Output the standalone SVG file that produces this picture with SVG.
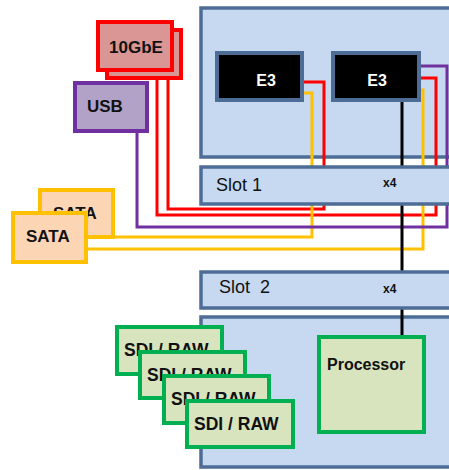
<svg xmlns="http://www.w3.org/2000/svg" width="449" height="470" viewBox="0 0 449 470">
<style>
.board{fill:#c6d9f1;stroke:#4d6d96;stroke-width:3.5}
.e3{fill:#000;stroke:#4d6d96;stroke-width:4}
.t{font-family:"Liberation Sans",Arial,sans-serif;font-weight:bold;fill:#111}
.w{fill:#fff}
.reg{font-weight:normal}
.gbe{fill:#d99694;stroke:#ff0000;stroke-width:4}
.usb{fill:#b3a2c7;stroke:#7030a0;stroke-width:4}
.sata{fill:#fcd5b5;stroke:#ffc000;stroke-width:4}
.grn{fill:#d7e4bd;stroke:#00b050;stroke-width:4}
.c{fill:none;stroke-width:3}
</style>
<rect width="449" height="470" fill="#fff"/>
<g id="board-top"><rect class="board" x="201" y="8" width="260" height="149"/></g>
<g id="board-bottom"><rect class="board" x="201" y="317" width="260" height="150"/></g>
<g id="connectors">
<path class="c" stroke="#ff0000" d="M302,82 H324 V209 H168 V78"/>
<path class="c" stroke="#ff0000" d="M419,78 H436 V215 H157 V78"/>
<path class="c" stroke="#ffc000" d="M302,93 H312 V237 H86"/>
<path class="c" stroke="#ffc000" d="M419,90 H423 V249 H86"/>
<path class="c" stroke="#7030a0" d="M419,66 H447 V227 H137 V131"/>
<path class="c" stroke="#000" d="M402,100 V337"/>
</g>
<g id="slot1"><rect class="board" x="201" y="167" width="260" height="37"/>
<text class="t reg" x="216" y="191" font-size="18">Slot 1</text>
<text class="t" x="383" y="187" font-size="12">x4</text></g>
<g id="slot2"><rect class="board" x="201" y="272" width="260" height="36"/>
<text class="t reg" x="219" y="293" font-size="18" xml:space="preserve">Slot  2</text>
<text class="t" x="383" y="293" font-size="12">x4</text></g>
<g id="e3-left"><rect class="e3" x="217" y="53" width="85" height="47"/>
<text class="t w" x="266" y="86" font-size="16" text-anchor="middle">E3</text></g>
<g id="e3-right"><rect class="e3" x="333" y="53" width="86" height="47"/>
<text class="t w" x="377" y="86" font-size="16" text-anchor="middle">E3</text></g>
<g id="gbe"><rect class="gbe" x="107" y="30" width="74" height="48"/>
<rect class="gbe" x="98" y="22" width="74" height="48"/>
<text class="t" x="109" y="53" font-size="17">10GbE</text></g>
<g id="usb"><rect class="usb" x="75" y="83" width="72" height="48"/>
<text class="t" x="87" y="112" font-size="17">USB</text></g>
<g id="sata"><rect class="sata" x="40" y="190" width="73" height="47"/>
<text class="t" x="53" y="219" font-size="17">SATA</text>
<rect class="sata" x="13" y="213" width="73" height="49"/>
<text class="t" x="26" y="242" font-size="17">SATA</text></g>
<g id="processor"><rect class="grn" x="319" y="337" width="105" height="95"/>
<text class="t" x="327" y="370" font-size="16">Processor</text></g>
<g id="sdi1"><rect class="grn" x="117" y="327" width="105" height="47"/>
<text class="t" x="124" y="356" font-size="17.5">SDI / RAW</text></g>
<g id="sdi2"><rect class="grn" x="140" y="352" width="105" height="46"/>
<text class="t" x="147" y="381" font-size="17.5">SDI / RAW</text></g>
<g id="sdi3"><rect class="grn" x="164" y="376" width="105" height="47"/>
<text class="t" x="171" y="405" font-size="17.5">SDI / RAW</text></g>
<g id="sdi4"><rect class="grn" x="187" y="401" width="106" height="46"/>
<text class="t" x="194" y="430" font-size="17.5">SDI / RAW</text></g>
</svg>
